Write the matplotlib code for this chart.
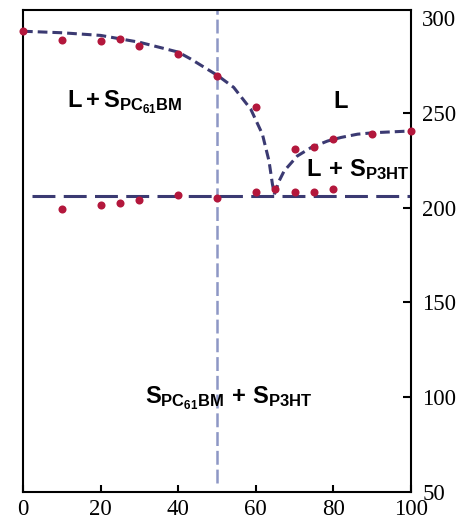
import matplotlib
matplotlib.use("Agg")
import matplotlib.pyplot as plt

plt.rcParams["mathtext.fontset"] = "custom"
plt.rcParams["mathtext.rm"] = "Liberation Sans:bold"
plt.rcParams["mathtext.it"] = "Liberation Sans:bold"
plt.rcParams["mathtext.bf"] = "Liberation Sans:bold"
plt.rcParams["lines.scale_dashes"] = False

# measured transition temperatures (wt% PC61BM vs T)
comp_upper = [0, 10, 20, 25, 30, 40, 50, 60]
temp_upper = [293, 288.6, 287.7, 289, 285, 281, 269.6, 253.2]

comp_lower = [10, 20, 25, 30, 40, 50, 60, 65, 70, 75, 80]
temp_lower = [199.3, 201.2, 202.3, 204, 206.4, 204.8, 208.3, 209.6, 208.3, 208.3, 209.9]

comp_right = [70, 75, 80, 90, 100]
temp_right = [231.1, 232, 236, 239, 240.4]

# guide lines for the phase boundaries
liq_left_x = [0, 10, 20, 30, 40, 43.2, 50.2, 54.3, 58.7, 61.7, 63.4, 64.3, 64.8]
liq_left_y = [293, 292.2, 290.8, 287.2, 282, 278.4, 269.6, 263.4, 251.9, 238.7, 224.6, 212.2, 207]
liq_right_x = [64.8, 66, 67.3, 70.7, 74.2, 78.5, 82, 86.2, 90.5, 100]
liq_right_y = [207, 214, 219.3, 227.2, 231.6, 235.1, 237, 238.7, 239.5, 240.4]
eutectic_x = [2.3, 100]
eutectic_y = [206, 206]
vert_x = [50, 50]
vert_y = [55, 304.2]

xticks = [0, 20, 40, 60, 80, 100]
yticks = [50, 100, 150, 200, 250, 300]

dark = "#3b3a72"
light = "#8d97c5"
red = "#b3173c"

fig = plt.figure(figsize=(4.67, 5.21), dpi=100)
ax = fig.add_axes([23 / 467, 29 / 521, 388 / 467, 482 / 521])

ax.plot(vert_x, vert_y, color=light, lw=1.8, dashes=(10, 3.5))
ax.plot(eutectic_x, eutectic_y, color=dark, lw=2.2, dashes=(16.5, 6))
ax.plot(liq_left_x, liq_left_y, color=dark, lw=2.2, dashes=(7, 3.6))
ax.plot(liq_right_x, liq_right_y, color=dark, lw=2.2, dashes=(7, 3.6))

for xs, ys in [(comp_upper, temp_upper), (comp_lower, temp_lower), (comp_right, temp_right)]:
    ax.plot(xs, ys, "o", color=red, ms=5.8, mec="none", clip_on=False, zorder=5)

ax.text(11.3, 252.8, r"$L + S_{PC_{61}BM}$", fontsize=17, ha="left", va="baseline")
ax.text(81.9, 252.6, r"$L$", fontsize=17, ha="center", va="baseline")
ax.text(72.9, 216.6, r"$L\,+\,S_{P3HT}$", fontsize=17, ha="left", va="baseline")
ax.text(31.5, 96.5, r"$S_{PC_{61}BM}\,+\,S_{P3HT}$", fontsize=17, ha="left", va="baseline")

ax.set_xlim(0, 100)
ax.set_ylim(50, 304.2)
ax.set_xticks(xticks)
ax.set_yticks(yticks)
ax.yaxis.tick_right()
ax.tick_params(axis="x", direction="in", length=5, width=1.5, pad=5)
ax.tick_params(axis="y", direction="in", length=6, width=1.5, pad=8)
for lbl in ax.get_xticklabels() + ax.get_yticklabels():
    lbl.set_family("Liberation Serif")
    lbl.set_fontsize(16.5)
ax.yaxis.get_major_ticks()[0].tick2line.set_visible(False)
ax.yaxis.get_major_ticks()[-1].tick2line.set_visible(False)
for sp in ax.spines.values():
    sp.set_linewidth(1.5)

fig.savefig("out.png", dpi=100)
